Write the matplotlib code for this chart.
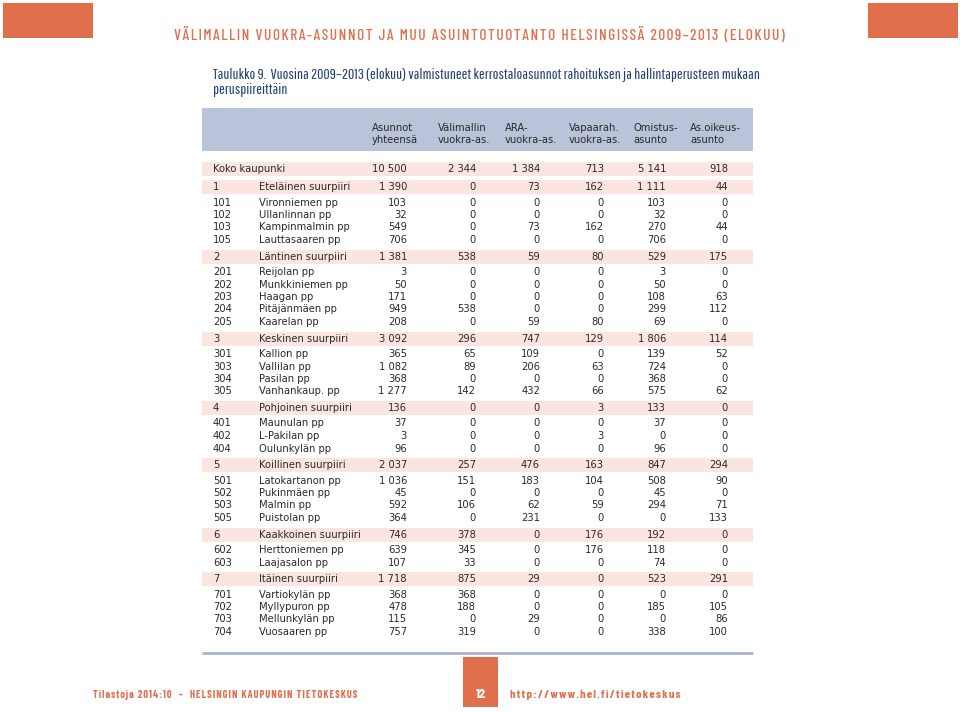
import matplotlib
matplotlib.use("Agg")
import matplotlib.pyplot as plt
from matplotlib import font_manager
from matplotlib.patches import Rectangle

# Data
column_labels = ["Asunnot\nyhteensä", "Välimallin\nvuokra-as.", "ARA-\nvuokra-as.",
                 "Vapaarah.\nvuokra-as.", "Omistus-\nasunto", "As.oikeus-\nasunto"]

total_label = "Koko kaupunki"
total_values = [10500, 2344, 1384, 713, 5141, 918]

suurpiiri_codes = ["1", "2", "3", "4", "5", "6", "7"]
suurpiiri_names = ["Eteläinen suurpiiri", "Läntinen suurpiiri", "Keskinen suurpiiri",
                   "Pohjoinen suurpiiri", "Koillinen suurpiiri", "Kaakkoinen suurpiiri",
                   "Itäinen suurpiiri"]
suurpiiri_values = [
    [1390, 0, 73, 162, 1111, 44],
    [1381, 538, 59, 80, 529, 175],
    [3092, 296, 747, 129, 1806, 114],
    [136, 0, 0, 3, 133, 0],
    [2037, 257, 476, 163, 847, 294],
    [746, 378, 0, 176, 192, 0],
    [1718, 875, 29, 0, 523, 291],
]

peruspiiri_codes = [
    ["101", "102", "103", "105"],
    ["201", "202", "203", "204", "205"],
    ["301", "303", "304", "305"],
    ["401", "402", "404"],
    ["501", "502", "503", "505"],
    ["602", "603"],
    ["701", "702", "703", "704"],
]
peruspiiri_names = [
    ["Vironniemen pp", "Ullanlinnan pp", "Kampinmalmin pp", "Lauttasaaren pp"],
    ["Reijolan pp", "Munkkiniemen pp", "Haagan pp", "Pitäjänmäen pp", "Kaarelan pp"],
    ["Kallion pp", "Vallilan pp", "Pasilan pp", "Vanhankaup. pp"],
    ["Maunulan pp", "L-Pakilan pp", "Oulunkylän pp"],
    ["Latokartanon pp", "Pukinmäen pp", "Malmin pp", "Puistolan pp"],
    ["Herttoniemen pp", "Laajasalon pp"],
    ["Vartiokylän pp", "Myllypuron pp", "Mellunkylän pp", "Vuosaaren pp"],
]
peruspiiri_values = [
    [[103, 0, 0, 0, 103, 0], [32, 0, 0, 0, 32, 0], [549, 0, 73, 162, 270, 44],
     [706, 0, 0, 0, 706, 0]],
    [[3, 0, 0, 0, 3, 0], [50, 0, 0, 0, 50, 0], [171, 0, 0, 0, 108, 63],
     [949, 538, 0, 0, 299, 112], [208, 0, 59, 80, 69, 0]],
    [[365, 65, 109, 0, 139, 52], [1082, 89, 206, 63, 724, 0], [368, 0, 0, 0, 368, 0],
     [1277, 142, 432, 66, 575, 62]],
    [[37, 0, 0, 0, 37, 0], [3, 0, 0, 3, 0, 0], [96, 0, 0, 0, 96, 0]],
    [[1036, 151, 183, 104, 508, 90], [45, 0, 0, 0, 45, 0], [592, 106, 62, 59, 294, 71],
     [364, 0, 231, 0, 0, 133]],
    [[639, 345, 0, 176, 118, 0], [107, 33, 0, 0, 74, 0]],
    [[368, 368, 0, 0, 0, 0], [478, 188, 0, 0, 185, 105], [115, 0, 29, 0, 0, 86],
     [757, 319, 0, 0, 338, 100]],
]

page_title = "VÄLIMALLIN VUOKRA-ASUNNOT JA MUU ASUINTOTUOTANTO HELSINGISSÄ 2009–2013 (ELOKUU)"
table_title = ("Taulukko 9.  Vuosina 2009–2013 (elokuu) valmistuneet kerrostaloasunnot "
               "rahoituksen ja hallintaperusteen mukaan")
table_title2 = "peruspiireittäin"
footer_left = "Tilastoja 2014:10  –  HELSINGIN KAUPUNGIN TIETOKESKUS"
footer_right = "http://www.hel.fi/tietokeskus"
page_number = "12"

# Style
ORANGE = "#E06F4C"
NAVY = "#1F3D73"
HEAD_BG = "#B9C4DB"
BAND = "#FBE5E0"
LINE = "#AAB5CC"
TEXT = "#2A2A2A"

installed = {f.name for f in font_manager.fontManager.ttflist}


def pick(*cands):
    for c in cands:
        if c in installed:
            return c
    return "DejaVu Sans"


cond = [pick("Pathway Gothic One", "Barlow Condensed"), "DejaVu Sans"]
cond_bold = [pick("Barlow Condensed", "Saira ExtraCondensed", "Roboto Condensed"), "DejaVu Sans"]
plt.rcParams["font.family"] = ["DejaVu Sans"]

fig = plt.figure(figsize=(9.6, 7.12), dpi=100)
ax = fig.add_axes([0, 0, 1, 1])
ax.set_xlim(0, 960)
ax.set_ylim(712, 0)
ax.axis("off")
renderer = fig.canvas.get_renderer()


def spaced(s):
    # widen letter spacing with hair spaces
    return "\u200a".join(s)


def fit_text(x, y, s, width, ha="left", **kw):
    t = ax.text(x, y, s, ha=ha, va="center", **kw)
    bb = t.get_window_extent(renderer)
    t.set_fontsize(t.get_fontsize() * width / bb.width)
    return t


def fmt(v):
    return f"{v:,}".replace(",", " ")


# page decorations
ax.add_patch(Rectangle((3, 3), 90, 35, color=ORANGE, lw=0))
ax.add_patch(Rectangle((868, 3), 90, 35, color=ORANGE, lw=0))
fit_text(479, 35, spaced(page_title), 608, ha="center", family=cond_bold,
         fontweight="medium", color=ORANGE, fontsize=12)

t1 = fit_text(213, 75, table_title, 545, family=cond, color=NAVY, fontsize=10)
ax.text(213, 90, table_title2, ha="left", va="center", family=cond, color=NAVY,
        fontsize=t1.get_fontsize())

# table
left, right = 202, 753
label_x = [372, 438, 505, 569, 633, 690]
value_x = [407, 476, 540, 604, 666, 728]
code_x, name_x = 213, 259
fs = 7.2

ax.add_patch(Rectangle((left, 108), right - left, 43, color=HEAD_BG, lw=0))
for lx, lab in zip(label_x, column_labels):
    ax.text(lx, 134, lab, ha="left", va="center", fontsize=fs, color=TEXT,
            linespacing=1.15)


def draw_row(y, code, name, values, band=False):
    if band:
        ax.add_patch(Rectangle((left, y - 7), right - left, 14, color=BAND, lw=0))
    if code:
        ax.text(code_x, y, code, ha="left", va="center", fontsize=fs, color=TEXT)
        ax.text(name_x, y, name, ha="left", va="center", fontsize=fs, color=TEXT)
    else:
        ax.text(code_x, y, name, ha="left", va="center", fontsize=fs, color=TEXT)
    for vx, v in zip(value_x, values):
        ax.text(vx, y, fmt(v), ha="right", va="center", fontsize=fs, color=TEXT)


y = 169
draw_row(y, None, total_label, total_values, band=True)
y += 18
for i in range(len(suurpiiri_codes)):
    draw_row(y, suurpiiri_codes[i], suurpiiri_names[i], suurpiiri_values[i], band=True)
    y += 15.5
    for j in range(len(peruspiiri_codes[i])):
        draw_row(y, peruspiiri_codes[i][j], peruspiiri_names[i][j], peruspiiri_values[i][j])
        y += 12.5
    y += 4

ax.plot([left, right], [y + 4, y + 4], color=LINE, lw=2, solid_capstyle="butt")

# footer
ax.add_patch(Rectangle((463, 657), 35, 50, color=ORANGE, lw=0))
ax.text(480.5, 695, page_number, ha="center", va="center", color="white",
        family=cond_bold, fontweight="bold", fontsize=10)
fit_text(93, 695, spaced(footer_left), 265, family=cond_bold,
         fontweight="bold", color=ORANGE, fontsize=9)
fit_text(510, 695, spaced(footer_right), 170, family=cond_bold,
         fontweight="bold", color=ORANGE, fontsize=9)

fig.savefig("out.png", dpi=100, facecolor="white")
